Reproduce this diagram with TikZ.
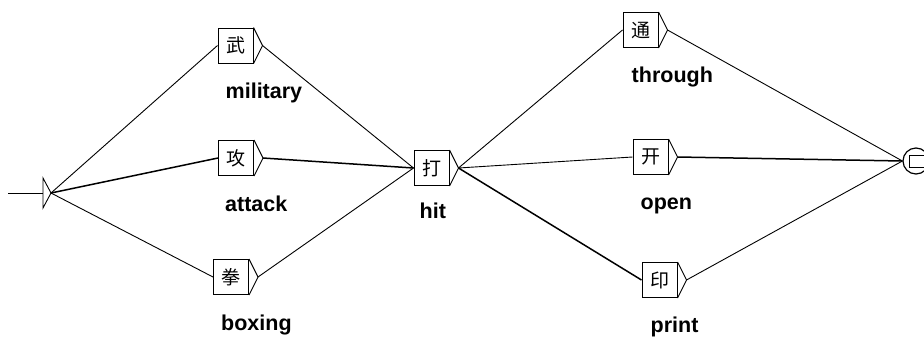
\documentclass[tikz,border=0pt]{standalone}
\usepackage{fontspec}
\setmainfont{Liberation Sans}
\newfontfamily\cjk{Noto Sans CJK SC}
\usepackage{tikz}
\usetikzlibrary{positioning}

\begin{document}
\begin{tikzpicture}[x=1pt,y=-1pt,
  box/.style={draw,line width=1pt,minimum width=35pt,minimum height=35pt,inner sep=0pt,
    font=\cjk\fontsize{19}{19}\selectfont},
  lbl/.style={inner sep=0pt,font=\bfseries\fontsize{21.5}{24}\selectfont},
  wire/.style={line width=0.9pt},
  heavy/.style={line width=1.5pt}]
\useasboundingbox (0,0) rectangle (924,338);

% initial state
\coordinate (in) at (8,193);
\coordinate (start) at (43,193);
\draw[wire] (in) -- (start);
\draw[wire] ([yshift=15pt]start) -- ([xshift=8pt]start) coordinate (start-out)
      -- ([yshift=-15pt]start) -- cycle;

% boxes
\node[box] (wu)   at (235.5,45.5) {武};
\node[box] (gong) at (236,158)    {攻};
\node[box] (quan) at (231,277)    {拳};
\node[box] (da)   at (431.5,168)  {打};
\node[box] (tong) at (640.5,30)   {通};
\node[box] (kai)  at (650.5,157)  {开};
\node[box] (yin)  at (659.5,280)  {印};

% output tips
\draw[wire] (wu.north east) -- ([xshift=9pt]wu.east) coordinate (wu-out) -- (wu.south east);
\draw[wire] (gong.north east) -- ([xshift=9pt]gong.east) coordinate (gong-out) -- (gong.south east);
\draw[wire] (quan.north east) -- ([xshift=9pt]quan.east) coordinate (quan-out) -- (quan.south east);
\draw[wire] (da.north east) -- ([xshift=9pt]da.east) coordinate (da-out) -- (da.south east);
\draw[wire] (tong.north east) -- ([xshift=9pt]tong.east) coordinate (tong-out) -- (tong.south east);
\draw[wire] (kai.north east) -- ([xshift=9pt]kai.east) coordinate (kai-out) -- (kai.south east);
\draw[wire] (yin.north east) -- ([xshift=9pt]yin.east) coordinate (yin-out) -- (yin.south east);

% labels
\node[lbl,below right=35pt and 8pt of wu.south west,anchor=base west] (lwu) {military};
\node[lbl,below right=35pt and 7pt of gong.south west,anchor=base west] (lgong) {attack};
\node[lbl,below right=35pt and 8pt of quan.south west,anchor=base west] (lquan) {boxing};
\node[lbl,below right=32pt and 6pt of da.south west,anchor=base west] (lda) {hit};
\node[lbl,below right=34pt and 9pt of tong.south west,anchor=base west] (ltong) {through};
\node[lbl,below right=34pt and 8pt of kai.south west,anchor=base west] (lkai) {open};
\node[lbl,below right=34pt and 9pt of yin.south west,anchor=base west] (lyin) {print};

% final state
\node[draw,circle,line width=1.2pt,minimum size=26pt,inner sep=0pt] (final) at (916,161) {};
\node[draw,line width=1pt,minimum width=18pt,minimum height=12pt,inner sep=0pt,
  right=-7pt of final.center] (stop) {};

% transitions
\draw[wire] (start-out) edge (wu.west)
      (start-out) edge[heavy] (gong.west)
      (start-out) edge (quan.west)
      (wu-out) edge (da.west)
      (gong-out) edge[heavy] (da.west)
      (quan-out) edge (da.west)
      (da-out) edge (tong.west)
      (da-out) edge (kai.west)
      (da-out) edge[heavy] (yin.west)
      (tong-out) edge (final.west)
      (kai-out) edge[heavy] (final.west)
      (yin-out) edge (final.west);
\end{tikzpicture}
\end{document}
